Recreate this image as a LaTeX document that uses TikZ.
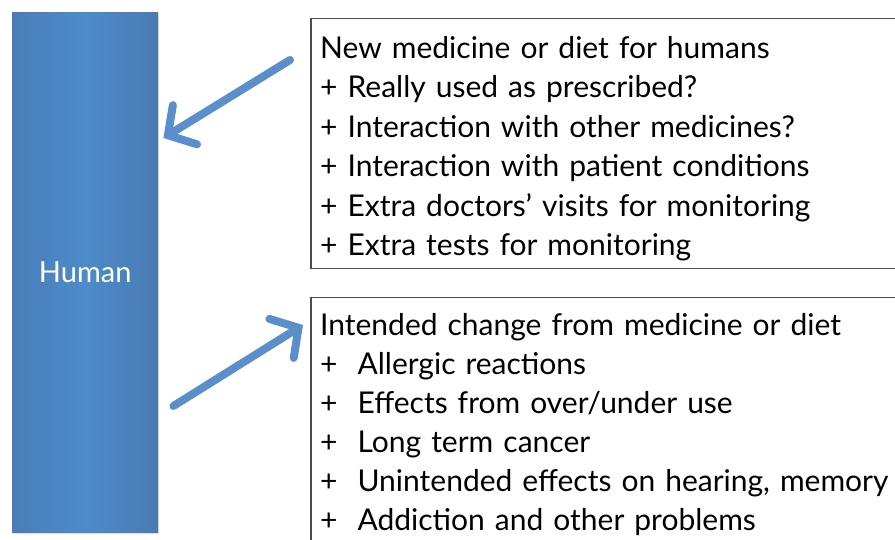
\documentclass[tikz,border=0pt]{standalone}
\usepackage{fontspec}
\setmainfont{Lato}
\usetikzlibrary{positioning, arrows.meta, shadows, calc}
\definecolor{barleft}{HTML}{4A7DB8}
\definecolor{barmid}{HTML}{4D8BCA}
\definecolor{barright}{HTML}{4A7BB2}
\definecolor{arrowblue}{HTML}{5A8FCB}
\tikzset{
	bluebar/.style={left color=barleft, right color=barright, middle color=barmid,
		draw=none, font=\fontsize{29}{32}\selectfont\color{white},
		drop shadow={opacity=0.25, shadow xshift=1pt, shadow yshift=-2pt}}
}
\tikzset{
	listbox/.style={draw=black!70, line width=1.5pt, fill=white,
		anchor=north west, minimum width=600pt}
}
\tikzset{
	listtext/.style={align=left, anchor=north west, inner sep=0pt, text width=570pt,
		font=\fontsize{30}{#1}\selectfont},
	listtext/.default=39.5
}
\tikzset{
	bluearrow/.style={draw=arrowblue, line width=8pt, line cap=round,
		-{Straight Barb[length=20pt, width=46pt, line cap=round]}}
}
\begin{document}
\begin{tikzpicture}[x=1pt, y=-1pt]
      \useasboundingbox (0,0) rectangle (895,540);
      \node[bluebar, minimum width=146pt, minimum height=520pt, anchor=north west] (human) at (12,12) {Human};
      % boxes, right edges run off the page
      \node[listbox, minimum height=250pt] (newbox) at (310,18) {};
      \node[listbox, minimum height=260pt] (effbox) at (310,297) {};
      \node[listtext] (newtext) at ([shift={(10,18)}]newbox.north west) {New medicine or diet for humans\\
        + Really used as prescribed?\\
        + Interaction with other medicines?\\
        + Interaction with patient conditions\\
        + Extra doctors’ visits for monitoring\\
        + Extra tests for monitoring};
      \node[listtext=39] (efftext) at ([shift={(10,16)}]effbox.north west) {Intended change from medicine or diet\\
        +\ \ Allergic reactions\\
        +\ \ Effects from over/under use\\
        +\ \ Long term cancer\\
        +\ \ Unintended effects on hearing, memory\\
        +\ \ Addiction and other problems};
      \coordinate (newtail) at ([shift={(-20,42)}]newbox.north west);
      \coordinate (newhead) at ([shift={(5,126)}]human.north east);
      \coordinate (efftail) at ([shift={(15,394)}]human.north east);
      \coordinate (effhead) at ([shift={(-7,28)}]effbox.north west);
      \draw[bluearrow] (newtail) -- (newhead);
      \draw[bluearrow] (efftail) -- (effhead);
    \end{tikzpicture}
\end{document}
